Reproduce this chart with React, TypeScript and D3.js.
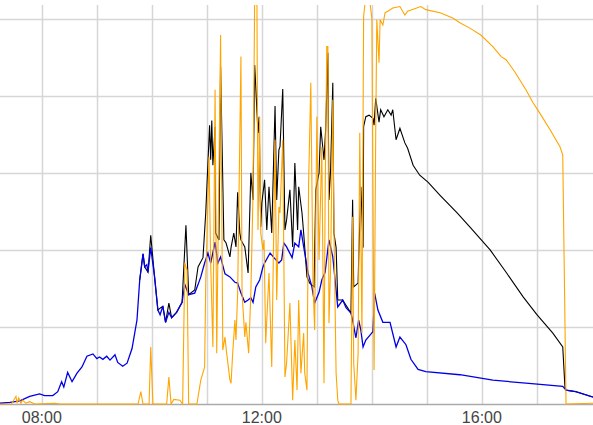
import React, { useEffect, useRef } from 'react';
import * as d3 from 'd3';

// time in decimal hours, value in kW
const blueSeries: [number, number][] = [
  [7.24, 0.01], [7.42, 0.02], [7.6, 0.04], [7.78, 0.1], [7.96, 0.13], [8.05, 0.11], [8.2, 0.11],
  [8.29, 0.16], [8.36, 0.29], [8.4, 0.22], [8.47, 0.41], [8.55, 0.29], [8.64, 0.4], [8.73, 0.48],
  [8.82, 0.62], [8.93, 0.65], [9.0, 0.59], [9.05, 0.61], [9.11, 0.58], [9.18, 0.62], [9.24, 0.57],
  [9.33, 0.64], [9.38, 0.54], [9.47, 0.49], [9.55, 0.53], [9.64, 0.72], [9.73, 1.09], [9.78, 1.61],
  [9.84, 1.95], [9.87, 1.78], [9.91, 1.81], [9.93, 1.71], [9.98, 2.03], [10.05, 1.65], [10.11, 1.22],
  [10.15, 1.16], [10.2, 1.27], [10.25, 1.06], [10.31, 1.19], [10.36, 1.12], [10.45, 1.19], [10.55, 1.32],
  [10.6, 1.55], [10.67, 1.42], [10.78, 1.44], [10.84, 1.55], [10.89, 1.65], [10.96, 1.83], [11.02, 1.96],
  [11.07, 1.83], [11.15, 2.1], [11.2, 1.83], [11.25, 1.91], [11.33, 1.69], [11.42, 1.65], [11.51, 1.58],
  [11.56, 1.57], [11.62, 1.44], [11.69, 1.32], [11.75, 1.35], [11.8, 1.38], [11.84, 1.32], [11.89, 1.52],
  [11.96, 1.61], [12.02, 1.78], [12.05, 1.83], [12.15, 1.96], [12.22, 1.9], [12.31, 1.83], [12.36, 1.87],
  [12.4, 2.09], [12.45, 2.04], [12.55, 1.9], [12.6, 2.09], [12.67, 2.04], [12.71, 2.26], [12.78, 1.96],
  [12.84, 1.7], [12.91, 1.52], [12.96, 1.31], [13.04, 1.45], [13.09, 1.61], [13.15, 1.71], [13.22, 2.13],
  [13.29, 1.91], [13.38, 1.26], [13.47, 1.35], [13.53, 1.25], [13.62, 1.18], [13.65, 1.09], [13.71, 0.86],
  [13.76, 1.09], [13.8, 0.96], [13.84, 0.74], [13.89, 0.83], [14.02, 0.94], [14.05, 1.44], [14.11, 1.22],
  [14.2, 1.06], [14.33, 1.06], [14.44, 0.74], [14.51, 0.87], [14.62, 0.77], [14.71, 0.58], [14.84, 0.45],
  [14.98, 0.42], [15.6, 0.38], [16.2, 0.31], [16.8, 0.27], [17.47, 0.23], [17.53, 0.18], [17.71, 0.16],
  [18.02, 0.09],
];

const blackSeries: [number, number][] = [
  [9.78, 1.61], [9.84, 1.95], [9.87, 1.78], [9.93, 1.71], [9.98, 2.19], [10.05, 1.65], [10.11, 1.22],
  [10.2, 1.27], [10.25, 1.06], [10.31, 1.31], [10.36, 1.12], [10.45, 1.19], [10.55, 1.32], [10.62, 2.32],
  [10.67, 1.42], [10.78, 1.48], [10.84, 1.78], [10.93, 1.9], [10.98, 2.48], [11.05, 3.62], [11.07, 3.17],
  [11.09, 3.68], [11.11, 3.1], [11.15, 3.6], [11.16, 2.22], [11.22, 2.13], [11.25, 4.38], [11.31, 2.13],
  [11.35, 2.09], [11.42, 1.91], [11.44, 2.03], [11.49, 2.22], [11.53, 2.04], [11.56, 2.75], [11.6, 2.22],
  [11.62, 2.13], [11.69, 2.04], [11.75, 1.7], [11.8, 3.0], [11.84, 2.65], [11.87, 4.4], [11.93, 3.52],
  [11.95, 3.73], [11.98, 2.3], [12.0, 2.61], [12.05, 2.91], [12.09, 2.26], [12.13, 2.82], [12.18, 2.22],
  [12.24, 3.87], [12.27, 2.65], [12.31, 3.3], [12.33, 3.34], [12.38, 4.09], [12.42, 2.26], [12.45, 2.39],
  [12.51, 2.78], [12.56, 2.04], [12.6, 3.13], [12.65, 2.26], [12.67, 2.82], [12.73, 2.48], [12.76, 2.22],
  [12.82, 1.65], [12.87, 1.57], [12.95, 1.52], [12.98, 2.78], [13.04, 3.0], [13.07, 3.6], [13.13, 3.17],
  [13.16, 3.56], [13.2, 4.56], [13.22, 2.65], [13.25, 3.04], [13.29, 4.17], [13.31, 2.22], [13.35, 2.03],
  [13.38, 1.35], [13.47, 1.35], [13.62, 1.18], [13.65, 2.65], [13.67, 1.52], [13.75, 1.57], [13.76, 1.87],
  [13.8, 2.82], [13.84, 2.03], [13.85, 3.6], [13.89, 3.73], [13.95, 3.75], [14.02, 3.71], [14.04, 3.62],
  [14.07, 3.97], [14.13, 3.66], [14.16, 3.82], [14.22, 3.73], [14.29, 3.82], [14.35, 3.75], [14.38, 3.82],
  [14.44, 3.43], [14.51, 3.58], [14.6, 3.39], [14.65, 3.32], [14.75, 3.1], [14.87, 2.97], [15.02, 2.88],
  [15.24, 2.71], [15.55, 2.48], [15.78, 2.3], [16.15, 2.0], [16.45, 1.7], [16.75, 1.39], [17.0, 1.16],
  [17.29, 0.92], [17.47, 0.74], [17.51, 0.22], [17.53, 0.18], [17.71, 0.16], [18.02, 0.09],
];

const orangeSeries: [number, number][] = [
  [7.24, 0], [7.45, 0], [7.53, 0.1], [7.55, 0.01], [7.58, 0.08], [7.62, 0.01], [7.65, 0.05], [7.71, 0.01],
  [7.78, 0.03], [7.87, 0], [8.24, 0.01], [8.33, 0], [9.75, 0], [9.8, 0.16], [9.84, 0], [9.95, 0],
  [9.98, 0.74], [10.02, 0], [10.27, 0], [10.31, 0.35], [10.35, 0], [10.4, 0.06], [10.51, 0.05], [10.56, 0],
  [10.6, 1.83], [10.64, 1.74], [10.67, 0], [10.82, 0], [10.89, 0.31], [10.96, 0.48], [10.98, 1.57],
  [11.04, 3.21], [11.07, 1.83], [11.11, 0.74], [11.15, 4.08], [11.18, 0.66], [11.25, 4.79], [11.29, 0.7],
  [11.33, 0.87], [11.36, 0.66], [11.42, 0.31], [11.44, 0.27], [11.47, 0.66], [11.51, 1.09], [11.53, 0.83],
  [11.56, 1.44], [11.62, 4.51], [11.64, 1.44], [11.69, 0.87], [11.71, 1.06], [11.76, 0.66], [11.8, 1.44],
  [11.84, 2.74], [11.87, 5.3], [11.91, 5.3], [11.93, 2.26], [11.96, 3.73], [11.98, 2.22], [12.02, 2.0],
  [12.04, 2.13], [12.07, 0.79], [12.13, 1.7], [12.18, 0.48], [12.24, 3.43], [12.27, 1.35], [12.31, 2.56],
  [12.33, 2.48], [12.38, 3.43], [12.42, 0.35], [12.45, 0.53], [12.51, 1.31], [12.56, 0.05], [12.6, 0.83],
  [12.64, 0.18], [12.67, 1.35], [12.71, 0.4], [12.76, 0.92], [12.78, 0.4], [12.82, 0.18], [12.85, 2.87],
  [12.89, 4.17], [12.93, 1.57], [12.96, 0.96], [13.0, 3.73], [13.04, 1.87], [13.09, 3.34], [13.13, 0.27],
  [13.15, 2.65], [13.18, 4.64], [13.2, 4.64], [13.22, 1.05], [13.25, 1.78], [13.29, 3.95], [13.31, 2.3],
  [13.35, 0.4], [13.38, 0.05], [13.4, 0], [13.62, 0], [13.65, 2.43], [13.67, 0.53], [13.71, 0.05],
  [13.75, 0.66], [13.76, 1.57], [13.78, 3.52], [13.82, 0.92], [13.85, 5.03], [13.89, 5.3], [13.95, 5.3],
  [14.0, 5.01], [14.04, 0.44], [14.07, 3.52], [14.09, 4.99], [14.13, 4.43], [14.15, 4.99], [14.2, 4.92],
  [14.24, 5.08], [14.29, 5.1], [14.38, 5.14], [14.51, 5.16], [14.6, 5.05], [14.65, 5.1], [14.89, 5.16],
  [14.98, 5.12], [15.24, 5.08], [15.47, 5.01], [15.6, 4.95], [15.78, 4.88], [15.98, 4.79], [16.2, 4.64],
  [16.35, 4.51], [16.44, 4.47], [16.6, 4.31], [16.8, 4.08], [16.93, 3.91], [17.05, 3.78], [17.24, 3.56],
  [17.42, 3.34], [17.47, 3.23], [17.53, 0], [18.02, 0.01],
];

const hourGrid = [8, 9, 10, 11, 12, 13, 14, 15, 16, 17];
const valueGrid = [1, 2, 3, 4, 5];
const tickHours = [8, 12, 16];

const App = () => {
  const svgRef = useRef<SVGSVGElement>(null);

  useEffect(() => {
    const svg = d3.select(svgRef.current);
    svg.selectAll('*').remove();

    const x = d3.scaleLinear().domain([7.24, 18.02]).range([0, 593]);
    const y = d3.scaleLinear().domain([0, 5.18]).range([404, 5]);

    // clip plot area
    svg.append('defs').append('clipPath').attr('id', 'plot')
      .append('rect').attr('x', 0).attr('y', 5).attr('width', 593).attr('height', 400);

    // grid
    svg.append('g').selectAll('line').data(hourGrid).enter().append('line')
      .attr('x1', d => Math.round(x(d)) + 0.5).attr('x2', d => Math.round(x(d)) + 0.5)
      .attr('y1', 5).attr('y2', 404)
      .attr('stroke', '#d6d6d6').attr('stroke-width', 1.5);

    svg.append('g').selectAll('line').data(valueGrid).enter().append('line')
      .attr('x1', 0).attr('x2', 593)
      .attr('y1', d => Math.round(y(d)) + 0.5).attr('y2', d => Math.round(y(d)) + 0.5)
      .attr('stroke', '#d6d6d6').attr('stroke-width', 1.5);

    // baseline
    svg.append('line')
      .attr('x1', 0).attr('x2', 593).attr('y1', y(0) + 0.5).attr('y2', y(0) + 0.5)
      .attr('stroke', '#aaa').attr('stroke-width', 1.5);

    const line = d3.line<[number, number]>()
      .x(d => x(d[0]))
      .y(d => y(d[1]));

    const g = svg.append('g').attr('clip-path', 'url(#plot)');
    g.append('path').datum(blackSeries).attr('d', line)
      .attr('fill', 'none').attr('stroke', '#000').attr('stroke-width', 1.1);
    g.append('path').datum(blueSeries).attr('d', line)
      .attr('fill', 'none').attr('stroke', '#0000e6').attr('stroke-width', 1.3);
    g.append('path').datum(orangeSeries).attr('d', line)
      .attr('fill', 'none').attr('stroke', '#ffa500').attr('stroke-width', 1.1);

    // tick labels
    svg.append('g').selectAll('text').data(tickHours).enter().append('text')
      .attr('x', d => x(d))
      .attr('y', 423)
      .attr('text-anchor', 'middle')
      .attr('font-family', 'Arial, "Liberation Sans", sans-serif')
      .attr('font-size', 16)
      .attr('fill', '#444')
      .text(d => `${String(d).padStart(2, '0')}:00`);
  }, []);

  return (
    <svg ref={svgRef} width={593} height={425}
      style={{ position: 'absolute', left: 0, top: 0, background: '#fff' }} />
  );
};

export default App;
